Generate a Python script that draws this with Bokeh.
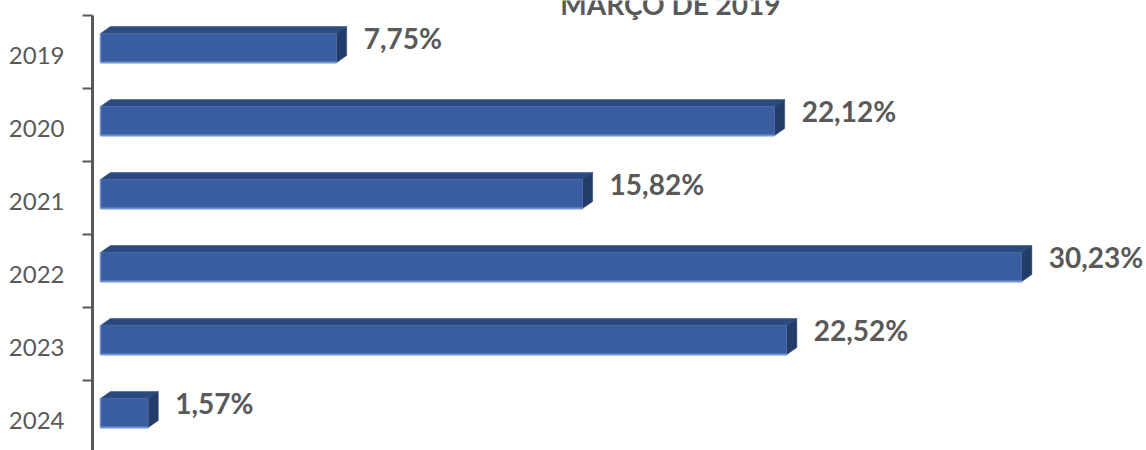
from bokeh.plotting import figure
from bokeh.models import Range1d, FixedTicker, Label, ColumnDataSource, CustomJSTickFormatter
from bokeh.core.properties import value
from bokeh.embed import file_html
from bokeh.resources import INLINE

# ---- data ----
years = ["2019", "2020", "2021", "2022", "2023", "2024"]
shares = [7.75, 22.12, 15.82, 30.23, 22.52, 1.57]
title_text = "MARÇO DE 2019"

# ---- styling / geometry ----
FRAME_W, FRAME_H = 1054, 450
X0, X1 = -0.26, 34.32
PX_Y = 73.0                       # px per category band
Y_TOP = -15 / PX_Y                # a little room above the first band for the title
Y_BOTTOM = Y_TOP + FRAME_H / PX_Y
px_x = FRAME_W / (X1 - X0)
px_y = PX_Y

FRONT = "#385da1"
TOP = "#2b4a80"
SIDE = "#233c6a"
EDGE = "#7393cf"
TXT = "#595959"
FONT = "Lato"

depth_dx = 10 / px_x
depth_dy = 7 / px_y
bar_h = 29 / px_y
bar_shift = -4 / px_y

n = len(years)
centers = [i + 0.5 + bar_shift for i in range(n)]
front_top = [c - bar_h / 2 for c in centers]
front_bot = [c + bar_h / 2 for c in centers]

top_xs = [[0, depth_dx, v + depth_dx, v] for v in shares]
top_ys = [[ft, ft - depth_dy, ft - depth_dy, ft] for ft in front_top]
side_xs = [[v, v + depth_dx, v + depth_dx, v] for v in shares]
side_ys = [[ft, ft - depth_dy, fb - depth_dy, fb] for ft, fb in zip(front_top, front_bot)]

labels = [f"{v:.2f}".replace(".", ",") + "%" for v in shares]

p = figure(
    frame_width=FRAME_W, frame_height=FRAME_H,
    x_range=Range1d(X0, X1), y_range=Range1d(Y_BOTTOM, Y_TOP),
    x_axis_location=None, toolbar_location=None, output_backend="svg",
    min_border_left=92, min_border_right=0, min_border_top=0, min_border_bottom=0,
    outline_line_color=None, background_fill_color="white", border_fill_color="white",
)
p.grid.visible = False

p.patches(top_xs, top_ys, fill_color=TOP, line_color=TOP, line_width=0.5)
p.patches(side_xs, side_ys, fill_color=SIDE, line_color=SIDE, line_width=0.5)
p.hbar(y=centers, left=0, right=shares, height=bar_h, fill_color=FRONT, line_color=None)
# light edges of the front face
p.segment(x0=[0] * n, y0=front_bot, x1=shares, y1=front_bot, line_color=EDGE, line_width=2)
p.segment(x0=[0] * n, y0=front_top, x1=[0] * n, y1=front_bot, line_color=EDGE, line_width=1.5)

src = ColumnDataSource(dict(x=shares, y=[i + 0.5 for i in range(n)], t=labels))
p.text(x="x", y="y", text="t", source=src, x_offset=27, y_offset=-14,
       text_font=value(FONT), text_font_style="bold", text_font_size="28px",
       text_color=TXT, text_baseline="middle", text_align="left")

ax = p.yaxis[0]
ax.bounds = (0, Y_BOTTOM)
ax.ticker = FixedTicker(ticks=[i + 0.55 for i in range(n)], minor_ticks=list(range(n + 1)))
ax.formatter = CustomJSTickFormatter(args=dict(labels=years), code="return labels[Math.floor(tick)];")
ax.axis_line_color = TXT
ax.axis_line_width = 3
ax.major_tick_line_color = None
ax.major_tick_out = 0
ax.major_tick_in = 0
ax.minor_tick_line_color = TXT
ax.minor_tick_line_width = 2
ax.minor_tick_out = 10
ax.minor_tick_in = 0
ax.major_label_standoff = 18
ax.major_label_text_font = FONT
ax.major_label_text_font_size = "24px"
ax.major_label_text_color = TXT

title = Label(x=18.7, y=-12 / px_y, text=title_text, text_align="center", text_baseline="alphabetic",
              text_font=FONT, text_font_style="bold", text_font_size="28px", text_color=TXT)
p.add_layout(title)

open("out.html", "w").write(file_html(p, INLINE))
